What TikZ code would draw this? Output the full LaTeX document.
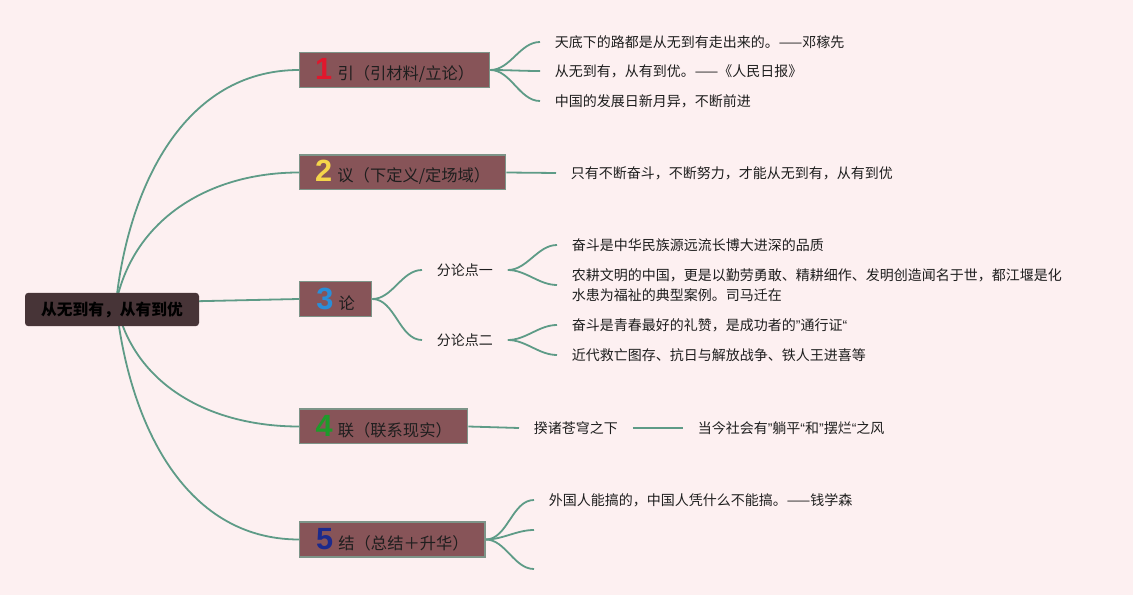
\documentclass[tikz,border=0pt]{standalone}
\usepackage{fontspec}
\setmainfont{Noto Sans CJK SC}
\newfontfamily\numfont{Liberation Sans}
\usepackage{tikz}
\usetikzlibrary{backgrounds,calc,positioning}
\definecolor{mmpaper}{HTML}{FDF0F1}
\definecolor{mmroot}{HTML}{473437}
\definecolor{mmtopic}{HTML}{875458}
\definecolor{mmedge}{HTML}{7D9488}
\definecolor{mmlink}{HTML}{5E9B87}
\definecolor{mmtext}{HTML}{1E1E1E}
\definecolor{numred}{HTML}{E0182D}
\definecolor{numyellow}{HTML}{F5D54A}
\definecolor{numblue}{HTML}{2A8ED8}
\definecolor{numgreen}{HTML}{1F9A2B}
\definecolor{numnavy}{HTML}{1C2A8C}
\newcommand{\topicnum}[2]{{\numfont\bfseries\fontsize{23}{23}\selectfont\color{#1}#2}\hspace{4pt}}
\newcommand{\wq}[1]{{\numfont #1}}
\tikzset{
  rootbox/.style={fill=mmroot,rounded corners=2.5pt,minimum width=130.5pt,minimum height=25pt,
    font=\bfseries\fontsize{11.8}{14}\selectfont,text=black},
  topic/.style={draw=mmedge,line width=1pt,fill=mmtopic,minimum height=26pt,anchor=west,
    inner xsep=6pt,font=\fontsize{12.2}{14}\selectfont,text=mmtext},
  leaf/.style={anchor=west,inner xsep=11pt,inner ysep=2pt,align=left,
    font=\fontsize{10.5}{15}\selectfont,text=mmtext},
  link/.style={draw=mmlink,line width=1.35pt},
  fork/.style={link,out=0,in=180,looseness=0.9}
}
\begin{document}
\begin{tikzpicture}[x=0.75pt,y=-0.75pt]
  \useasboundingbox (0,0) rectangle (1133,595);
  % centre
  \node[rootbox] (root) at (112,309.5) {从无到有，从有到优};
  \coordinate (hub) at (116,303);
  % main topics
  \node[topic,minimum width=142.5pt] (t1) at (299,70) {\topicnum{numred}{1}引（引材料/立论）};
  \node[topic,minimum width=154.5pt] (t2) at (299,172.5) {\topicnum{numyellow}{2}议（下定义/定场域）};
  \node[topic,minimum width=54pt] (t3) at (299,299) {\topicnum{numblue}{3}论};
  \node[topic,minimum width=126pt] (t4) at (299,426.5) {\topicnum{numgreen}{4}联（联系现实）};
  \node[topic,minimum width=139pt] (t5) at (299,539.5) {\topicnum{numnavy}{5}结（总结＋升华）};
  % 1
  \node[leaf] (l1a) at (540,42) {天底下的路都是从无到有走出来的。——邓稼先};
  \node[leaf] (l1b) at (540,71) {从无到有，从有到优。——《人民日报》};
  \node[leaf] (l1c) at (540,101) {中国的发展日新月异，不断前进};
  % 2
  \node[leaf] (l2a) at (556,173) {只有不断奋斗，不断努力，才能从无到有，从有到优};
  % 3
  \node[leaf] (p1) at (422,270) {分论点一};
  \node[leaf] (p2) at (422,340) {分论点二};
  \node[leaf] (l3a) at (557,245) {奋斗是中华民族源远流长博大进深的品质};
  \node[leaf] (l3b) at (557,285) {农耕文明的中国，更是以勤劳勇敢、精耕细作、发明创造闻名于世，都江堰是化\\水患为福祉的典型案例。司马迁在};
  \node[leaf] (l3c) at (557,325) {奋斗是青春最好的礼赞，是成功者的\wq{”}通行证\wq{“}};
  \node[leaf] (l3d) at (557,355) {近代救亡图存、抗日与解放战争、铁人王进喜等};
  % 4
  \node[leaf] (l4a) at (519,428) {揆诸苍穹之下};
  \node[leaf,right=37.5pt of l4a] (l4b) {当今社会有\wq{”}躺平\wq{“}和\wq{”}摆烂\wq{“}之风};
  % 5
  \node[leaf] (l5a) at (534,500) {外国人能搞的，中国人凭什么不能搞。——钱学森};
  \coordinate (l5b) at (534,530);
  \coordinate (l5c) at (534,569);
  \begin{scope}[on background layer]
    \fill[mmpaper] (0,0) rectangle (1133,595);
    \draw[link] (hub) to[out=84,in=180] (t1.west);
    \draw[link] (hub) to[out=78,in=180] (t2.west);
    \draw[link] (hub) -- (t3.west);
    \draw[link] (hub) to[out=-78,in=180] (t4.west);
    \draw[link] (hub) to[out=-84,in=180] (t5.west);
    \foreach \leafname in {l1a,l1b,l1c}
      \draw[fork] (t1.east) to (\leafname.west);
    \draw[link] (t2.east) -- (l2a.west);
    \draw[fork] (t3.east) to (p1.west);
    \draw[fork] (t3.east) to (p2.west);
    \draw[fork] (p1.east) to (l3a.west);
    \draw[fork] (p1.east) to (l3b.west);
    \draw[fork] (p2.east) to (l3c.west);
    \draw[fork] (p2.east) to (l3d.west);
    \draw[link] (t4.east) -- (l4a.west);
    \draw[link] (l4a.east) -- (l4b.west);
    \draw[fork] (t5.east) to (l5a.west);
    \draw[fork] (t5.east) to (l5b);
    \draw[fork] (t5.east) to (l5c);
  \end{scope}
\end{tikzpicture}
\end{document}
